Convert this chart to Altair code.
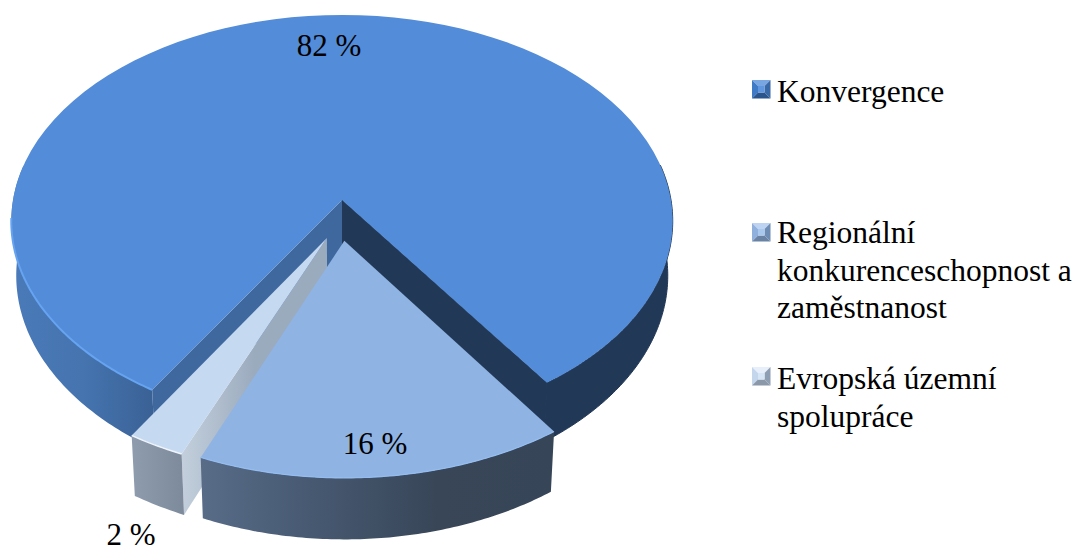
import numpy as np
import altair as alt

# --- data
categories = ["Konvergence", "Regionální konkurenceschopnost a zaměstnanost", "Evropská územní spolupráce"]
legend_text = ["Konvergence", "Regionální\nkonkurenceschopnost a\nzaměstnanost", "Evropská územní\nspolupráce"]
shares = [81.5, 16.0, 2.5]
share_labels = ["82 %", "16 %", "2 %"]

# --- layout and style
FONT = "Liberation Serif"
CX, CY, A, B, K = 342.0, 200.0, 329.0, 204.0, 0.102
DEPTH, SHRINK = 54.0, 0.985
OFFSET = 8
FIRST_EDGE = 34.8  # degrees, clockwise-from-front edge where the 16 % slice starts
EXPLODE = [(0.0, 0.0), (0.007, 0.196), (-0.045, 0.183)]


def top(u, v):
    w = 1 - K * v
    return CX + A * u / w, CY + B * v / w


def bottom(u, v):
    x, y = top(u, v)
    return CX + (x - CX) * SHRINK, y + DEPTH / (1 - K * v)


def rim(a0, a1, off=(0.0, 0.0), n=90):
    th = np.radians(np.linspace(a0, a1, n))
    return [(float(np.sin(t) + off[0]), float(np.cos(t) + off[1])) for t in th]


def feature(points, closed=True):
    pts = [[float(x), float(y)] for x, y in points]
    if closed:
        pts.append(pts[0])
        geom = {"type": "Polygon", "coordinates": [pts]}
    else:
        geom = {"type": "LineString", "coordinates": pts}
    return {"type": "Feature", "properties": {}, "geometry": geom}


def hgrad(*stops):
    n = len(stops) - 1
    return alt.LinearGradient(
        gradient="linear", x1=0, x2=1, y1=0, y2=0,
        stops=[alt.GradientStop(offset=i / n, color=c) for i, c in enumerate(stops)],
    )


layers = []


def poly(points, fill, stroke=None):
    kw = dict(stroke=stroke, strokeWidth=1) if stroke else dict(strokeWidth=0)
    layers.append(
        alt.Chart(alt.Data(values=[feature(points)], format=alt.DataFormat(type="json")))
        .mark_geoshape(fill=fill, **kw)
    )


def line(points, color, width):
    layers.append(
        alt.Chart(alt.Data(values=[feature(points, False)], format=alt.DataFormat(type="json")))
        .mark_geoshape(filled=False, stroke=color, strokeWidth=width)
    )


def wall(arc, fill, stroke=None):
    poly([top(u, v) for u, v in arc] + [bottom(u, v) for u, v in arc[::-1]], fill, stroke)


# slice edges from the shares
deg = [s * 3.6 for s in shares]
e16_r = FIRST_EDGE
e16_l = e16_r - deg[1]
e2_l = e16_l - deg[2]

# main slice: outer walls, inner walls, top
wall(rim(e2_l, -100), hgrad("#4a7ab9", "#4574af", "#3a6195"))
wall(rim(e16_r, 100), "#223857", "#223857")
u_r, v_r = np.sin(np.radians(e16_r)), np.cos(np.radians(e16_r))
u_l, v_l = np.sin(np.radians(e2_l)), np.cos(np.radians(e2_l))
poly([top(0, 0), top(u_r, v_r), bottom(u_r, v_r), bottom(0, 0)], "#223857", "#223857")
poly([top(0, 0), top(u_l, v_l), bottom(u_l, v_l), bottom(0, 0)], "#3f689f")
poly([top(0, 0)] + [top(u, v) for u, v in rim(e16_r, e2_l + 360)], "#538cd8")
line([top(u, v) for u, v in rim(e2_l, -85)], "#66a3f0", 2)

# 2.5 % slice
o = EXPLODE[2]
ap = (o[0], o[1])
r0 = (np.sin(np.radians(e16_l)) + o[0], np.cos(np.radians(e16_l)) + o[1])
poly([top(*ap), top(*r0), bottom(*r0), bottom(*ap)], hgrad("#c3cfdc", "#9babbe", "#9babbe"))
wall(rim(e2_l, e16_l, o, 12), hgrad("#8e9cae", "#7d8a9b"))
poly([top(*ap)] + [top(u, v) for u, v in rim(e2_l, e16_l, o, 12)], "#c5d9f1")
line([top(u, v) for u, v in rim(e2_l, e16_l, o, 12)], "#eef4fb", 1.5)

# 16 % slice
o = EXPLODE[1]
wall(rim(e16_l, e16_r, o), hgrad("#586c88", "#465870", "#384658", "#374558"))
poly([top(*o)] + [top(u, v) for u, v in rim(e16_l, e16_r, o)], "#8fb3e3")
line([top(u, v) for u, v in rim(e16_l, e16_r, o)], "#93bdf0", 1.2)

# legend swatches: bevelled squares
SW_X = 752.0
SW_Y = [80.0, 223.0, 367.0]
SW = 18.5
BEV = 6.0
SW_COL = [
    ["#6097de", "#78a6e2", "#3f7ac6", "#3a69a8", "#2a558c"],
    ["#a8c8ee", "#bcd4f1", "#8fb0dc", "#6d8db5", "#6a83a5"],
    ["#d6e6f6", "#e7effa", "#c4d6eb", "#8e9fb3", "#8a98aa"],
]
for y0, (c, t, l, r, b) in zip(SW_Y, SW_COL):
    x0, x1, y1 = SW_X, SW_X + SW, y0 + SW
    ix0, ix1, iy0, iy1 = x0 + BEV, x1 - BEV, y0 + BEV, y1 - BEV
    poly([(x0, y0), (x1, y0), (ix1, iy0), (ix0, iy0)], t)
    poly([(x0, y0), (ix0, iy0), (ix0, iy1), (x0, y1)], l)
    poly([(x1, y0), (x1, y1), (ix1, iy1), (ix1, iy0)], r)
    poly([(x0, y1), (ix0, iy1), (ix1, iy1), (x1, y1)], b)
    poly([(ix0, iy0), (ix1, iy0), (ix1, iy1), (ix0, iy1)], c)

# text
def label(text, x, y, size, align="left", line_height=None):
    kw = dict(lineHeight=line_height, lineBreak="\n") if line_height else {}
    layers.append(
        alt.Chart(alt.Data(values=[{"t": text}]))
        .mark_text(font=FONT, fontSize=size, color="#000000", align=align, baseline="alphabetic", **kw)
        .encode(text="t:N", x=alt.value(x - OFFSET), y=alt.value(y - OFFSET))
    )


label(share_labels[0], 329, 56, 31, "center")
label(share_labels[1], 375, 454, 31, "center")
label(share_labels[2], 131, 545, 31, "center")
TXT_X = 777
TXT_Y = [102, 243, 389]
for txt, y in zip(legend_text, TXT_Y):
    label(txt, TXT_X, y, 31.5, "left", 37.5)

chart = (
    alt.layer(*layers)
    .project(type="identity", scale=1, translate=[-OFFSET, -OFFSET])
    .properties(width=1064, height=539, padding=0, autosize=alt.AutoSizeParams(type="none"))
    .configure_view(stroke=None)
)
chart.save("out.html", embed_options={"renderer": "svg", "actions": False})
